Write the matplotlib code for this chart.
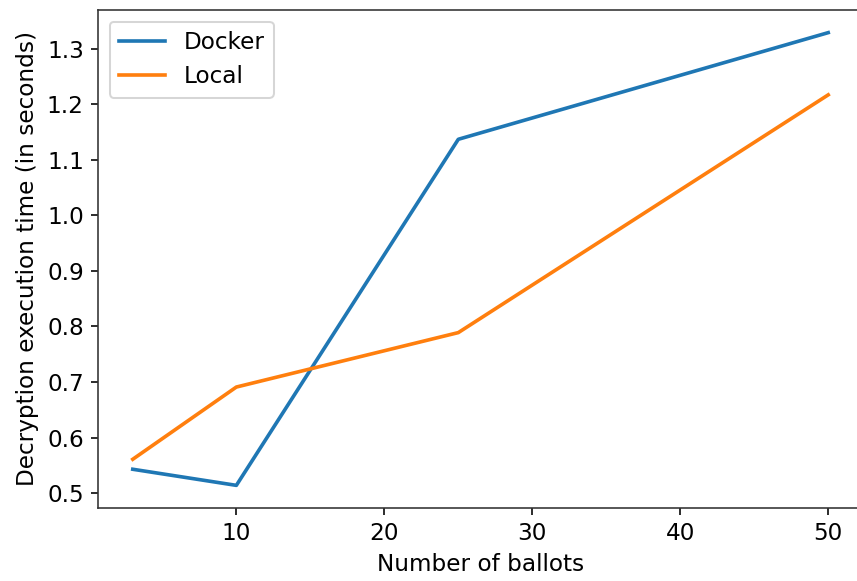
import matplotlib
matplotlib.use("Agg")
import matplotlib.pyplot as plt

ballots = [3, 10, 25, 50]
docker_times = [0.543, 0.514, 1.137, 1.329]
local_times = [0.561, 0.691, 0.789, 1.217]

DPI = 145
plt.rcParams["font.size"] = 11.5
plt.rcParams["lines.linewidth"] = 1.8
plt.rcParams["axes.edgecolor"] = "#333333"

fig = plt.figure(figsize=(857 / DPI, 581 / DPI), dpi=DPI)
# the reference is cropped a little on the right, so the axes run past the edge
ax = fig.add_axes([98 / 857, 1 - 508 / 581, (863 - 98) / 857, (508 - 10) / 581])

ax.plot(ballots, docker_times, label="Docker")
ax.plot(ballots, local_times, label="Local")

ax.set_xlabel("Number of ballots")
ax.set_ylabel("Decryption execution time (in seconds)")
ax.legend(loc="upper left")

fig.savefig("out.png", dpi=DPI)
